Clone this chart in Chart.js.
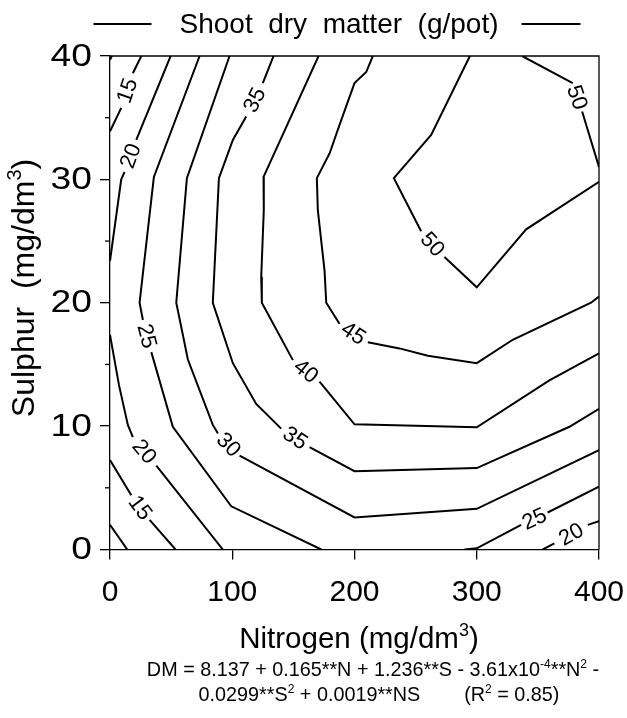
<!DOCTYPE html>
<html>
<head>
<meta charset="utf-8">
<script src="https://cdn.jsdelivr.net/npm/chart.js@4.4.1/dist/chart.umd.min.js"></script>
<style>
  html, body { margin: 0; padding: 0; background: #fff; }
  #wrap { width: 627px; height: 718px; }
</style>
</head>
<body>
<div id="wrap"><canvas id="chart-dm"></canvas></div>
<script>
// contour lines as [N, S] pairs; null leaves the gap where the label sits
const c10top = [[0, 39.7], [1.6, 40]];
const c10bottom = [[0, 2.0], [14.1, 0]];
const c15top = [[25.6, 40], [18.7, 38.6], null, [9.2, 35.8], [0, 33.9]];
const c15bottom = [[0, 7.25], [17.4, 4.4], null, [32.4, 2.4], [53.6, 0]];
const c20top = [[49.6, 40], [21.5, 33.2], null, [11.9, 30.6], [9.2, 30], [0, 23.4]];
const c20left = [[0, 17.4], [7.4, 13.3], [14.6, 10.1], [18.7, 9.1], null, [37.9, 6.8], [92.3, 0]];
const c20right = [[354, 0], [363.5, 0.5], null, [390.8, 2.0], [400, 2.3]];
const c25left = [[73.3, 40], [35.9, 30.2], [24.2, 20], [26.9, 18.6], null, [33.8, 16.0], [51.4, 9.95], [99.2, 3.5], [172.8, 0]];
const c25right = [[290, 0], [300, 0.1], [336.3, 2.0], null, [358, 3.0], [400, 5.1]];
const c30 = [[97.8, 40], [62.9, 30.1], [54.2, 20], [63.7, 15.4], [84.1, 10.1], [88.3, 9.4], null, [106, 7.6], [200, 2.6], [300, 3.3], [400, 8.05]];
const c35 = [[133.8, 40], [125, 37.8], null, [111.4, 35.1], [100.5, 33.2], [89.1, 30.1], [84.1, 20], [100.5, 15.1], [119.6, 11.8], [140, 9.8], null, [163.2, 8.3], [200, 6.35], [300, 6.6], [375.8, 9.95], [400, 11.4]];
const c40 = [[170.6, 40], [125.6, 30.2], [125.8, 27.5], [123.7, 22.1], [124.2, 20], [149.6, 15.35], null, [171.4, 13.6], [200, 10.15], [300, 9.9], [359.4, 13.7], [400, 15.9]];
const c45 = [[215, 40], [209.6, 38.7], [200, 37.8], [187.7, 34.4], [179.6, 32.1], [169.2, 30.1], [170, 27.5], [175.5, 22.6], [176.9, 20], [187.7, 18.3], null, [210.9, 16.8], [236.8, 16.3], [260, 15.7], [300, 15.1], [329.4, 17.0], [393.5, 20.0], [400, 20.5]];
const c50inner = [[294.4, 40], [262.7, 33.6], [232.2, 30.1], [254.5, 25.8], null, [273.6, 23.7], [300, 21.25], [340.4, 25.95], [400, 29.8]];
const c50outer = [[337.1, 40], [378.5, 37.8], null, [386.2, 35.5], [400, 31.0]];

const contours = [c10top, c10bottom, c15top, c15bottom, c20top, c20left, c20right, c25left, c25right, c30, c35, c40, c45, c50inner, c50outer];
const levels = [10, 10, 15, 15, 20, 20, 20, 25, 25, 30, 35, 40, 45, 50, 50];

const nTicks = [0, 100, 200, 300, 400];
const sTicks = [0, 10, 20, 30, 40];
const sMinorTicks = [5, 15, 25, 35];

const titleText = 'Shoot  dry  matter  (g/pot)';
const xTitle = [{t: 'Nitrogen (mg/dm'}, {t: '3', sup: true}, {t: ')'}];
const yTitle = [{t: 'Sulphur  (mg/dm'}, {t: '3', sup: true}, {t: ')'}];
const eqLine1 = [{t: 'DM = 8.137 + 0.165**N + 1.236**S - 3.61x10'}, {t: '-4', sup: true}, {t: '**N'}, {t: '2', sup: true}, {t: ' -'}];
const eqLine2 = [{t: '0.0299**S'}, {t: '2', sup: true}, {t: ' + 0.0019**NS        (R'}, {t: '2', sup: true}, {t: ' = 0.85)'}];

const FAM = '"Liberation Sans", Arial, sans-serif';
Chart.defaults.font.family = FAM;
Chart.defaults.color = '#000';

function richText(ctx, parts, cx, baseY, size) {
  const supSize = Math.round(size * 0.62);
  let total = 0;
  const widths = parts.map(p => {
    ctx.font = (p.sup ? supSize : size) + 'px ' + FAM;
    const w = ctx.measureText(p.t).width;
    total += w;
    return w;
  });
  let x = cx - total / 2;
  ctx.textAlign = 'left';
  ctx.textBaseline = 'alphabetic';
  parts.forEach((p, i) => {
    ctx.font = (p.sup ? supSize : size) + 'px ' + FAM;
    ctx.fillText(p.t, x, p.sup ? baseY - size * 0.42 : baseY);
    x += widths[i];
  });
}

// labels go in the gaps of each contour, turned along the line
const contourLabels = {
  id: 'contourLabels',
  afterDatasetsDraw(chart) {
    const {ctx, scales: {x, y}} = chart;
    ctx.save();
    ctx.font = '22px ' + FAM;
    ctx.fillStyle = '#000';
    ctx.textAlign = 'center';
    ctx.textBaseline = 'middle';
    chart.data.datasets.forEach(ds => {
      const pts = ds.data;
      for (let i = 1; i < pts.length - 1; i++) {
        if (pts[i].x !== null) continue;
        const a = pts[i - 1], b = pts[i + 1];
        const ax = x.getPixelForValue(a.x), ay = y.getPixelForValue(a.y);
        const bx = x.getPixelForValue(b.x), by = y.getPixelForValue(b.y);
        let ang = Math.atan2(by - ay, bx - ax);
        if (ang > Math.PI / 2) ang -= Math.PI;
        if (ang < -Math.PI / 2) ang += Math.PI;
        ctx.save();
        ctx.translate((ax + bx) / 2, (ay + by) / 2);
        ctx.rotate(ang);
        ctx.fillText(ds.label, 0, 1);
        ctx.restore();
      }
    });
    ctx.restore();
  }
};

const frameAndText = {
  id: 'frameAndText',
  afterDraw(chart) {
    const {ctx, chartArea: ca, scales: {y}} = chart;
    ctx.save();
    ctx.strokeStyle = '#000';
    ctx.lineWidth = 1.3;
    ctx.beginPath();
    ctx.moveTo(ca.left, ca.top);
    ctx.lineTo(ca.right, ca.top);
    ctx.lineTo(ca.right, ca.bottom);
    ctx.stroke();
    // minor ticks on the S axis
    sMinorTicks.forEach(v => {
      const py = y.getPixelForValue(v);
      ctx.beginPath();
      ctx.moveTo(ca.left - 5, py);
      ctx.lineTo(ca.left, py);
      ctx.stroke();
    });

    // S tick labels, a little wider than plain text like the original
    ctx.fillStyle = '#000';
    ctx.font = '31px ' + FAM;
    ctx.textAlign = 'right';
    ctx.textBaseline = 'middle';
    sTicks.forEach(v => {
      ctx.save();
      ctx.translate(ca.left - 18, y.getPixelForValue(v) + 1);
      ctx.scale(1.2, 1);
      ctx.fillText(String(v), 0, 0);
      ctx.restore();
    });

    // title with a short line either side
    ctx.font = '28px ' + FAM;
    ctx.textAlign = 'center';
    ctx.textBaseline = 'alphabetic';
    const tx = 339;
    ctx.fillText(titleText, tx, 33);
    const tw = ctx.measureText(titleText).width;
    ctx.lineWidth = 2;
    ctx.beginPath();
    ctx.moveTo(tx - tw / 2 - 86, 24);
    ctx.lineTo(tx - tw / 2 - 28, 24);
    ctx.moveTo(tx + tw / 2 + 23, 24);
    ctx.lineTo(tx + tw / 2 + 82, 24);
    ctx.stroke();

    richText(ctx, xTitle, 359, 648, 29.5);
    richText(ctx, eqLine1, 373, 676, 19.8);
    richText(ctx, eqLine2, 379, 701, 19.8);

    ctx.translate(34, 288);
    ctx.rotate(-Math.PI / 2);
    richText(ctx, yTitle, 0, 0, 32);
    ctx.restore();
  }
};

const ctx = document.getElementById('chart-dm').getContext('2d');
const chart = new Chart(ctx, {
  type: 'scatter',
  data: {
    datasets: contours.map((pts, i) => ({
      label: String(levels[i]),
      data: pts.map(p => p ? {x: p[0], y: p[1]} : {x: null, y: null}),
      showLine: true,
      spanGaps: false,
      borderColor: '#000',
      borderWidth: 2,
      pointRadius: 0,
      tension: 0
    }))
  },
  options: {
    responsive: true,
    maintainAspectRatio: false,
    animation: false,
    layout: {
      padding: {top: 56, right: 28, bottom: 0, left: 0}
    },
    scales: {
      x: {
        type: 'linear',
        min: 0,
        max: 400,
        afterBuildTicks: s => { s.ticks = nTicks.map(v => ({value: v})); },
        afterFit: s => { s.height = 168.5; s.paddingLeft = 0; s.paddingRight = 0; },
        grid: {drawOnChartArea: false, tickLength: 10, color: '#000', lineWidth: 1.3},
        border: {color: '#000', width: 1.3},
        ticks: {font: {size: 30}, padding: 15, color: '#000'}
      },
      y: {
        type: 'linear',
        min: 0,
        max: 40,
        afterBuildTicks: s => { s.ticks = sTicks.map(v => ({value: v})); },
        afterFit: s => { s.width = 110; s.paddingTop = 0; s.paddingBottom = 0; },
        grid: {drawOnChartArea: false, tickLength: 10, color: '#000', lineWidth: 1.3},
        border: {color: '#000', width: 1.3},
        ticks: {display: false}
      }
    },
    plugins: {
      legend: {display: false},
      tooltip: {enabled: false}
    }
  },
  plugins: [contourLabels, frameAndText]
});
</script>
</body>
</html>
